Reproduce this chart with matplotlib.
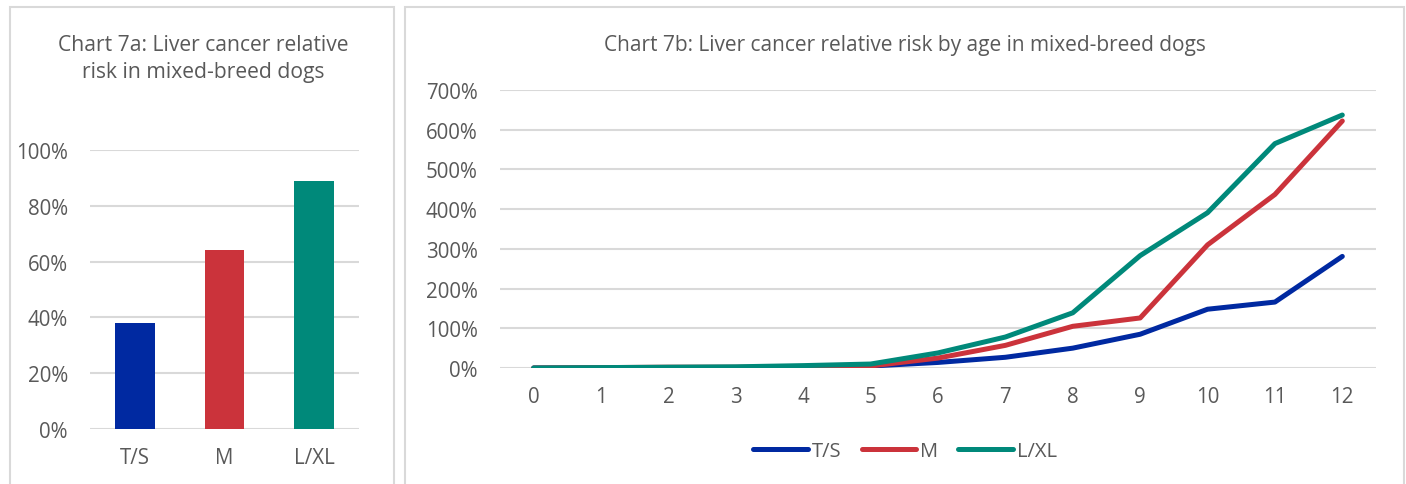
import matplotlib.pyplot as plt
import matplotlib.patches as patches
from matplotlib.ticker import PercentFormatter

plt.rcParams['font.family'] = ['Open Sans', 'DejaVu Sans']

sizes = ["T/S", "M", "L/XL"]
colors = ["#0029A1", "#CB333B", "#00897A"]

# chart 7a: overall relative risk (%)
overall_risk = [38, 64, 89]

# chart 7b: relative risk by age (%)
ages = list(range(13))
risk_ts = [0, 0, 0, 0, 0, 5, 14, 27, 50, 85, 148, 166, 281]
risk_m = [0, 1, 2, 2, 3, 5, 25, 57, 105, 126, 310, 437, 622]
risk_lxl = [0, 1, 2, 3, 6, 10, 38, 78, 139, 283, 391, 565, 637]

grey = "#595959"
grid = "#D9D9D9"
W, H = 1406, 485

fig = plt.figure(figsize=(W / 100, H / 100), dpi=100)

# panel borders
for x0, x1 in [(10, 394), (405, 1404)]:
    fig.patches.append(patches.Rectangle((x0 / W, -0.1), (x1 - x0) / W, 1.1 - 8 / H,
                                         transform=fig.transFigure, fill=False,
                                         edgecolor=grid, linewidth=1.5))


def style(ax):
    for s in ax.spines.values():
        s.set_visible(False)
    ax.yaxis.grid(True, color=grid, linewidth=1.5)
    ax.set_axisbelow(True)
    ax.tick_params(length=0, colors=grey, labelsize=14.8)
    ax.yaxis.set_major_formatter(PercentFormatter(decimals=0))


# --- left: bar chart
ax1 = fig.add_axes([90 / W, 1 - 430 / H, 269 / W, 279 / H])
ax1.bar(range(len(sizes)), overall_risk, width=0.444, color=colors)
ax1.set_xlim(-0.5, 2.5)
ax1.set_ylim(0, 100)
ax1.set_yticks(range(0, 101, 20))
ax1.set_xticks(range(len(sizes)))
ax1.set_xticklabels(sizes)
style(ax1)
ax1.tick_params(axis='y', pad=16)
ax1.tick_params(axis='x', pad=13)
fig.text(203 / W, 1 - 59 / H, "Chart 7a: Liver cancer relative\nrisk in mixed-breed dogs",
         ha='center', va='center', fontsize=15.2, color=grey, linespacing=1.33)

# --- right: line chart
ax2 = fig.add_axes([500 / W, 1 - 369 / H, 876 / W, 278 / H])
for vals, c, lab in zip([risk_ts, risk_m, risk_lxl], colors, sizes):
    ax2.plot(ages, vals, color=c, linewidth=3.6, label=lab, solid_capstyle='round')
ax2.set_xlim(-0.5, 12.5)
ax2.set_ylim(0, 700)
ax2.set_yticks(range(0, 701, 100))
ax2.set_xticks(ages)
style(ax2)
ax2.tick_params(axis='y', pad=16)
ax2.tick_params(axis='x', pad=13)
fig.text(905 / W, 1 - 45 / H, "Chart 7b: Liver cancer relative risk by age in mixed-breed dogs",
         ha='center', va='center', fontsize=15, color=grey)
leg = fig.legend(loc='center', bbox_to_anchor=(905 / W, 1 - 452 / H), ncol=3, frameon=False,
                 fontsize=14.5, handlelength=2.7, handletextpad=0.2, columnspacing=1.0,
                 labelcolor=grey)
for h in leg.get_lines():
    h.set_linewidth(3.6)

fig.savefig("out.png", dpi=100)
